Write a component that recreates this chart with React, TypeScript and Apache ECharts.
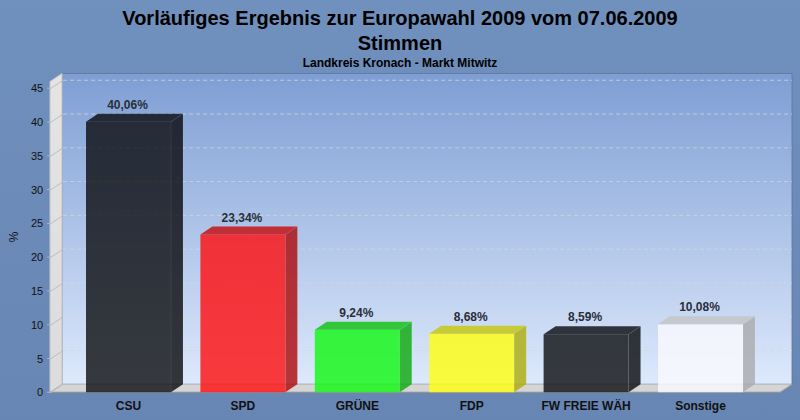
import React, { useEffect, useRef } from "react";
import * as echarts from "echarts";

const categories = ["CSU", "SPD", "GRÜNE", "FDP", "FW FREIE WÄH", "Sonstige"];
const values = [40.06, 23.34, 9.24, 8.68, 8.59, 10.08];
const tickValues = [0, 5, 10, 15, 20, 25, 30, 35, 40, 45];

const BAR_COLORS = ["#0b0c0f", "#ff0c0c", "#0ef90f", "#ffff0c", "#0b0c0f", "#fafafe"];
const BAR_ALPHA = 0.8;
const DX = 12;
const DY = 8;
const FRONT_LEFT = 50;
const FRONT_RIGHT = 780;
const FRONT_TOP = 81.5;
const BASE = 392.3;
const Y_MAX = 46;

function shade(hex: string, f: number, a: number) {
  const n = parseInt(hex.slice(1), 16);
  const r = Math.round(((n >> 16) & 255) * f);
  const g = Math.round(((n >> 8) & 255) * f);
  const b = Math.round((n & 255) * f);
  return `rgba(${r},${g},${b},${a})`;
}

function fmt(v: number) {
  return v.toFixed(2).replace(".", ",") + "%";
}

export default function App() {
  const ref = useRef<HTMLDivElement>(null);
  useEffect(() => {
    if (!ref.current) return;
    document.body.style.margin = "0";
    const chart = echarts.init(ref.current, null, { renderer: "svg" });
    const font = '"Liberation Sans", Arial, sans-serif';
    const option: any = {
      animation: false,
      backgroundColor: {
        type: "linear", x: 0, y: 0, x2: 0, y2: 1,
        colorStops: [
          { offset: 0, color: "#7090bd" },
          { offset: 1, color: "#6886b4" },
        ],
      },
      textStyle: { fontFamily: font },
      title: [
        {
          text: "Vorläufiges Ergebnis zur Europawahl 2009 vom 07.06.2009\nStimmen",
          left: "center", top: 0,
          textStyle: { fontSize: 20, fontWeight: "bold", color: "#000", lineHeight: 25, fontFamily: font },
        },
        {
          text: "Landkreis Kronach - Markt Mitwitz",
          left: "center", top: 52,
          textStyle: { fontSize: 12, fontWeight: "bold", color: "#000", fontFamily: font },
        },
      ],
      graphic: [
        {
          type: "rect", z: 0,
          shape: { x: FRONT_LEFT + DX, y: FRONT_TOP - DY, width: FRONT_RIGHT - FRONT_LEFT, height: BASE - FRONT_TOP },
          style: {
            fill: {
              type: "linear", x: 0, y: 0, x2: 0, y2: 1,
              colorStops: [
                { offset: 0, color: "#7e9ed4" },
                { offset: 1, color: "#dde9fc" },
              ],
            },
            stroke: "rgba(95,115,155,0.8)", lineWidth: 1,
          },
        },
        {
          type: "polygon", z: 0,
          shape: { points: [[FRONT_LEFT, FRONT_TOP], [FRONT_LEFT + DX, FRONT_TOP - DY], [FRONT_LEFT + DX, BASE - DY], [FRONT_LEFT, BASE]] },
          style: {
            fill: {
              type: "linear", x: 0, y: 0, x2: 0, y2: 1,
              colorStops: [
                { offset: 0, color: "#e4e4e4" },
                { offset: 1, color: "#dcdcdc" },
              ],
            },
            stroke: "#c4c4c4", lineWidth: 1,
          },
        },
        {
          type: "polygon", z: 0,
          shape: { points: [[FRONT_LEFT, BASE], [FRONT_LEFT + DX, BASE - DY], [FRONT_RIGHT + DX, BASE - DY], [FRONT_RIGHT, BASE]] },
          style: { fill: "#d5d5d5", stroke: "#bdbdbd", lineWidth: 1 },
        },
        {
          type: "line", z: 1,
          shape: { x1: FRONT_LEFT, y1: BASE, x2: FRONT_RIGHT, y2: BASE },
          style: { stroke: "#8a8a8a", lineWidth: 1 },
        },
        {
          type: "line", z: 1,
          shape: { x1: FRONT_RIGHT, y1: BASE, x2: FRONT_RIGHT + DX, y2: BASE - DY },
          style: { stroke: "#9a9a9a", lineWidth: 1 },
        },
      ],
      grid: [
        { left: 71.3, right: 42.3, top: FRONT_TOP, bottom: 420 - BASE },
        { left: FRONT_LEFT, right: 800 - FRONT_RIGHT, top: FRONT_TOP, bottom: 420 - BASE },
      ],
      xAxis: [
        {
          type: "category", gridIndex: 0, data: categories,
          axisLine: { show: false }, axisTick: { show: false },
          axisLabel: { margin: 8, color: "#111", fontWeight: "bold", fontSize: 12, fontFamily: font, interval: 0 },
        },
        { type: "value", gridIndex: 1, min: 0, max: 1, show: false },
      ],
      yAxis: [
        { type: "value", gridIndex: 0, min: 0, max: Y_MAX, show: false },
        {
          type: "value", gridIndex: 1, min: 0, max: Y_MAX, interval: 5,
          name: "%", nameLocation: "middle", nameGap: 30, nameRotate: 90,
          nameTextStyle: { color: "#111", fontSize: 12, fontFamily: font },
          axisLine: { show: false }, axisTick: { show: false }, splitLine: { show: false },
          axisLabel: {
            margin: 8, color: "#111", fontSize: 11, fontFamily: font,
            formatter: (v: number) => (v % 5 === 0 ? String(v) : ""),
          },
        },
      ],
      series: [
        {
          type: "custom", xAxisIndex: 1, yAxisIndex: 1, z: 3, silent: true,
          data: tickValues.map((v) => [0, v]),
          renderItem: (params: any, api: any) => {
            const v = api.value(1);
            const p = api.coord([0, v]);
            const q = api.coord([1, v]);
            const children: any[] = [
              {
                type: "polyline",
                shape: { points: [[p[0] - 4, p[1]], [p[0], p[1]], [p[0] + DX, p[1] - DY]] },
                style: { stroke: "rgba(185,185,185,0.9)", lineWidth: 1, fill: "none" },
              },
            ];
            if (v > 0) {
              children.push({
                type: "line",
                shape: { x1: p[0] + DX, y1: p[1] - DY, x2: q[0] + DX, y2: q[1] - DY },
                style: { stroke: "rgba(215,215,215,0.75)", lineWidth: 1, lineDash: [4, 3] },
              });
            }
            return { type: "group", children };
          },
        },
        {
          type: "custom", xAxisIndex: 0, yAxisIndex: 0, z: 5, silent: true,
          data: values.map((v, i) => [i, v]),
          renderItem: (params: any, api: any) => {
            const idx = api.value(0);
            const v = api.value(1);
            const top = api.coord([idx, v]);
            const base = api.coord([idx, 0]);
            const bw = api.size([1, 0])[0] * 0.743;
            const l = top[0] - bw / 2;
            const r = top[0] + bw / 2;
            const c = BAR_COLORS[params.dataIndex];
            return {
              type: "group",
              children: [
                {
                  type: "rect",
                  shape: { x: l, y: top[1], width: bw, height: base[1] - top[1] },
                  style: { fill: shade(c, 1, BAR_ALPHA) },
                },
                {
                  type: "polygon",
                  shape: { points: [[l, top[1]], [l + DX, top[1] - DY], [r + DX, top[1] - DY], [r, top[1]]] },
                  style: { fill: shade(c, 0.78, BAR_ALPHA) },
                },
                {
                  type: "polygon",
                  shape: { points: [[r, top[1]], [r + DX, top[1] - DY], [r + DX, base[1] - DY], [r, base[1]]] },
                  style: { fill: shade(c, 0.68, BAR_ALPHA), stroke: "rgba(255,255,255,0.08)", lineWidth: 1 },
                },
                {
                  type: "text",
                  style: {
                    text: fmt(v), x: top[0] - 1, y: top[1] - DY - 3,
                    align: "center", verticalAlign: "bottom",
                    fill: "#2a2e38", fontSize: 12, fontWeight: "bold", fontFamily: font,
                  },
                },
              ],
            };
          },
        },
      ],
    };
    chart.setOption(option);
    return () => chart.dispose();
  }, []);
  return <div ref={ref} style={{ width: 800, height: 420 }} />;
}
